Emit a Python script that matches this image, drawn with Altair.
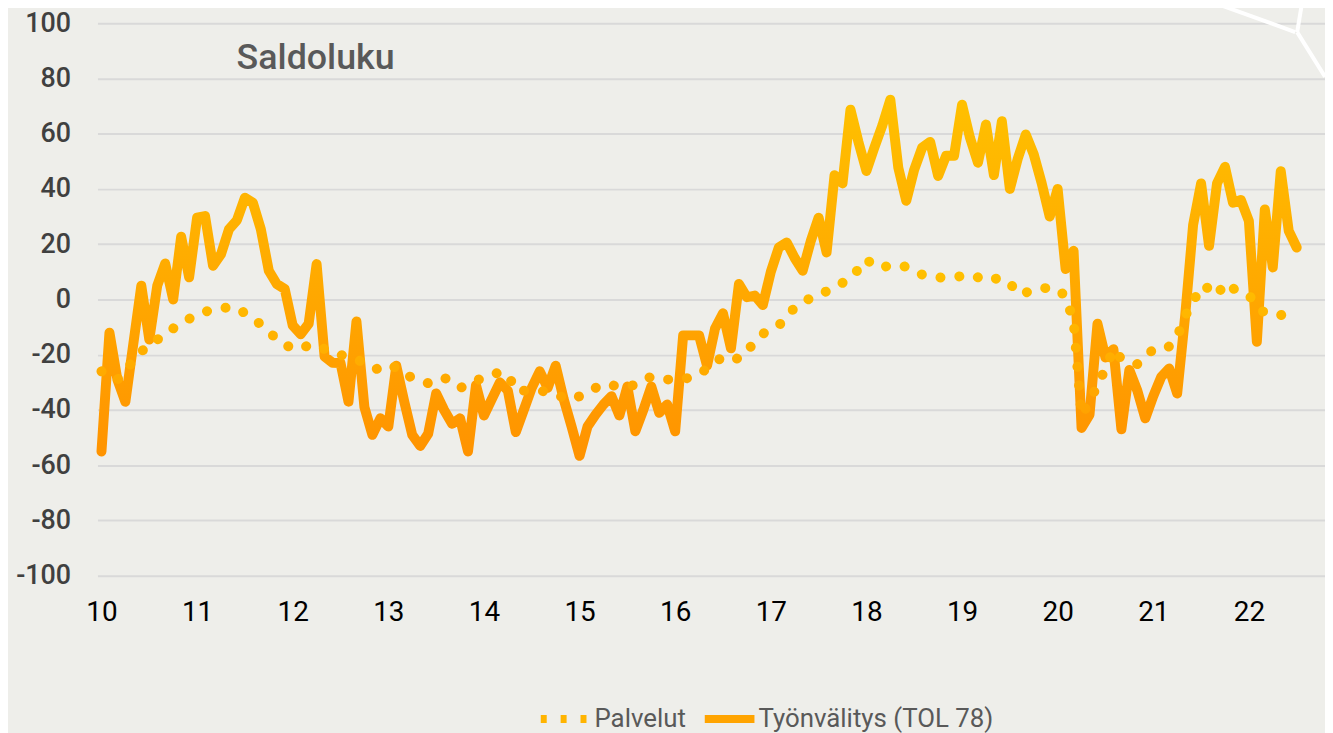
import altair as alt
import pandas as pd

# Työnvälitys (TOL 78), monthly saldoluku, Jan 2010 .. Jul 2022
tyonvalitys = [
    -55, -12, -29, -37, -16, 5, -14.5, 5, 13, 0, 22.7, 8,
    29.6, 30.2, 12.2, 16.4, 25.4, 28.7, 36.8, 35, 25.4, 10.4, 5.6, 3.8,
    -9.4, -12.6, -8.8, 12.8, -20.7, -22.9, -23, -37, -8, -39, -49, -43,
    -46, -24, -37, -49, -53, -48.6, -34, -40, -45, -43, -55, -31,
    -42, -36, -30, -33, -48, -40, -32, -26, -32, -24, -36, -46,
    -56.6, -46, -41.7, -38, -35, -42, -31.5, -47.7, -40, -31.5, -41, -38,
    -47.7, -13, -13, -13, -24, -10.5, -5, -17.7, 5.6, 0.8, 1.4, -2,
    10, 18.8, 20.6, 15, 10.4, 21, 29.6, 17, 45, 42, 68.7, 57,
    46.5, 55, 63, 72.3, 47.7, 35.7, 47, 55, 57, 44.7, 52, 52,
    70.5, 58.5, 49.5, 63.3, 45, 64.5, 40, 51, 59.7, 52.5, 42, 30,
    40, 11, 17.6, -46.5, -41.7, -8.8, -21, -18, -47, -25.5, -33, -43,
    -35, -28, -25, -34, -6, 27, 42, 19.4, 42, 48, 35, 36,
    28.4, -15.3, 32.6, 11.6, 46.4, 24.8, 18.8,
]

# Palvelut, monthly saldoluku, Jan 2010 .. Jul 2022
palvelut = [
    -26, -28, -29, -26, -22, -19, -16, -14.5, -13, -10.5, -8.5, -7,
    -5.5, -4.5, -3.5, -3, -3, -3, -5, -7, -9, -11.5, -14.5, -16.5,
    -17.5, -18, -16.5, -16.5, -18, -19, -20, -21, -22, -22.5, -24, -26,
    -25, -24.3, -26.5, -28.5, -29.5, -30.3, -29, -28.3, -30, -32, -31, -29.5,
    -28, -27, -26.5, -27, -33, -33, -33, -33, -33.5, -34.5, -35.5, -36.3,
    -35, -33.5, -32, -30.6, -31, -31.5, -31.3, -31, -29, -28, -28.7, -29,
    -29, -28.9, -28, -27, -25, -23, -20.5, -21, -21.5, -19, -15, -12.4,
    -11, -9.5, -6, -3, -1, 0.5, 1.4, 3, 4.4, 6, 7.5, 11,
    14.6, 12, 11.5, 12.5, 12.5, 11.8, 10.5, 9, 8.3, 8, 7.8, 8,
    8.5, 8.9, 8, 6.8, 7.5, 7.6, 6, 2, 2.5, 3.5, 4.2, 4,
    3.8, 1, -8, -42, -37, -31, -25, -18, -21.5, -22.5, -23.4, -21,
    -18, -18, -17, -13.5, -6, -1, 5, 4, 1.5, 6, 4, 2.5,
    1.5, -2, -5, -5.3, -5.6, -6, -6.2,
]

series_names = ["Palvelut", "Työnvälitys (TOL 78)"]
year_ticks = list(range(10, 23))
y_ticks = list(range(-100, 101, 20))
title_text = "Saldoluku"

n = len(tyonvalitys)
t = [10 + m / 12 for m in range(n)]
df = pd.DataFrame({
    "t": t + t,
    "value": palvelut + tyonvalitys,
    "series": [series_names[0]] * n + [series_names[1]] * n,
})

FONT = "Roboto"

x_enc = alt.X(
    "t:Q",
    scale=alt.Scale(domain=[9.958, 22.796], nice=False, zero=False),
    axis=alt.Axis(
        values=year_ticks, labelExpr="toString(datum.value)", title=None,
        grid=False, domain=False, ticks=False, labelFontSize=28,
        labelFont=FONT, labelColor="#000000", labelPadding=23,
    ),
)
y_enc = alt.Y(
    "value:Q",
    scale=alt.Scale(domain=[-100, 100], nice=False, zero=False),
    axis=alt.Axis(
        values=y_ticks, labelExpr="toString(datum.value)", title=None,
        grid=True, gridColor="#D9D9D9", gridWidth=2, domain=False,
        ticks=False, labelFontSize=27, labelFont=FONT, labelFontWeight=500,
        labelColor="#404040", labelPadding=27,
    ),
)

base = alt.Chart(df)

leg = alt.Legend(
    title=None, orient="none", legendX=442, legendY=671, direction="horizontal",
    symbolType="stroke", symbolSize=2500, symbolStrokeWidth=8,
    labelFontSize=26, labelFont=FONT, labelColor="#595959", labelLimit=400,
    columnPadding=2, labelOffset=0,
)

# legend carrier (no marks drawn, domain fixed)
legend_layer = base.transform_filter("false").mark_line(strokeWidth=8).encode(
    x=x_enc, y=y_enc,
    stroke=alt.Stroke("series:N", scale=alt.Scale(domain=series_names,
                      range=["#FFB400", "#FFA400"]), legend=leg),
    strokeDash=alt.StrokeDash("series:N", scale=alt.Scale(domain=series_names,
                              range=[[6, 14], [1, 0]]), legend=leg),
)

grad_tyo = {
    "gradient": "linear", "x1": 0, "x2": 0, "y1": 0, "y2": 1,
    "stops": [{"offset": 0, "color": "#FFC000"}, {"offset": 0.5, "color": "#FFAA00"},
              {"offset": 1, "color": "#FF9300"}],
}
grad_pal = {
    "gradient": "linear", "x1": 0, "x2": 0, "y1": 0, "y2": 1,
    "stops": [{"offset": 0, "color": "#FFC200"}, {"offset": 1, "color": "#FFA200"}],
}

tyo_line = base.transform_filter(
    alt.datum.series == series_names[1]
).mark_line(stroke=grad_tyo, strokeWidth=10, strokeJoin="round", strokeCap="round").encode(
    x=x_enc, y=y_enc
)

pal_line = base.transform_filter(
    alt.datum.series == series_names[0]
).mark_line(stroke=grad_pal, strokeWidth=10, strokeDash=[0.1, 19], strokeCap="round").encode(
    x=x_enc, y=y_enc
)

one = alt.Chart(pd.DataFrame({"label": [title_text]}))
title_layer = one.mark_text(
    align="left", baseline="alphabetic", fontSize=36, font=FONT, color="#595959",
    fontWeight=500,
).encode(text="label:N", x=alt.value(140), y=alt.value(46))

deco_style = dict(color="#FFFFFF", strokeWidth=4)
deco1 = one.mark_rule(**deco_style).encode(x=alt.value(1122), x2=alt.value(1205), y=alt.value(-21), y2=alt.value(9))
deco2 = one.mark_rule(**deco_style).encode(x=alt.value(1212), x2=alt.value(1207), y=alt.value(-21), y2=alt.value(9))
deco3 = one.mark_rule(**deco_style).encode(x=alt.value(1207), x2=alt.value(1235), y=alt.value(9), y2=alt.value(54))

chart = alt.layer(
    deco1, deco2, deco3, legend_layer, tyo_line, pal_line, title_layer
).properties(
    width=1235, height=556,
    padding={"left": 90, "top": 13, "right": 0, "bottom": 166},
    autosize=alt.AutoSizeParams(type="none"),
    background="#EEEEEA",
).configure_view(stroke=None)

chart.save("out.html", embed_options={"renderer": "svg", "actions": False})
